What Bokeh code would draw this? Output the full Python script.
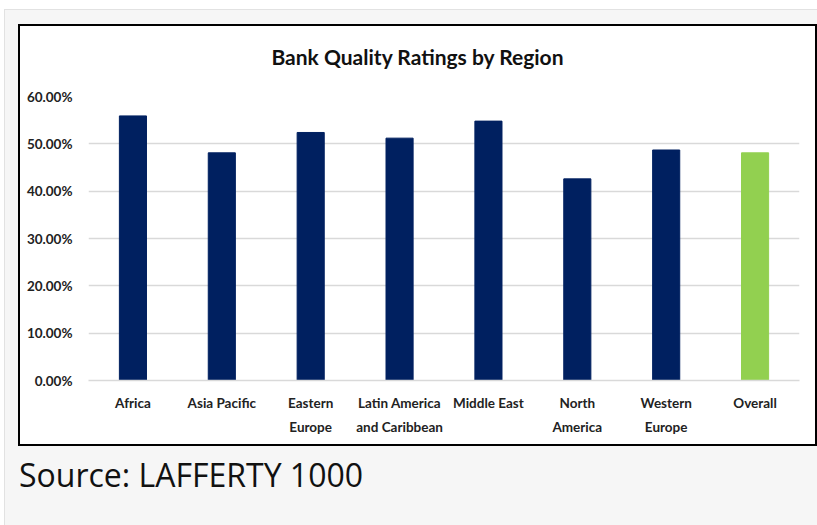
from bokeh.plotting import figure
from bokeh.layouts import column, row
from bokeh.models import (Range1d, FactorRange, FixedTicker, NumeralTickFormatter, Div,
                          ColumnDataSource, Spacer)
from bokeh.embed import file_html
from bokeh.resources import INLINE

title_text = "Bank Quality Ratings by Region"
source_text = "Source: LAFFERTY 1000"
categories = ["Africa", "Asia Pacific", "Eastern\nEurope", "Latin America\nand Caribbean",
              "Middle East", "North\nAmerica", "Western\nEurope", "Overall"]
values = [0.559, 0.481, 0.524, 0.512, 0.548, 0.426, 0.487, 0.481]
bar_colors = ["#002060", "#002060", "#002060", "#002060", "#002060", "#002060", "#002060", "#92D050"]
y_ticks = [0.0, 0.1, 0.2, 0.3, 0.4, 0.5, 0.6]

src = ColumnDataSource(dict(cat=categories, val=values, color=bar_colors))

p = figure(x_range=FactorRange(*categories, range_padding=0), y_range=Range1d(0, 0.6),
           width=795, height=356, output_backend="svg", toolbar_location=None,
           min_border_left=68, min_border_right=16, min_border_top=8, min_border_bottom=64)
p.vbar(x="cat", top="val", width=0.305, color="color", source=src)

p.background_fill_color = "white"
p.border_fill_color = "white"
p.outline_line_color = None

p.xgrid.grid_line_color = None
p.ygrid.grid_line_color = "#d9d9d9"
p.ygrid.grid_line_width = 1.5
p.ygrid.ticker = FixedTicker(ticks=y_ticks)

p.yaxis.ticker = FixedTicker(ticks=y_ticks)
p.yaxis.formatter = NumeralTickFormatter(format="0.00%")
p.yaxis.axis_line_color = None
p.yaxis.major_tick_line_color = None
p.yaxis.minor_tick_line_color = None
p.yaxis.major_label_standoff = 10
p.yaxis.major_label_text_font = "Lato"
p.yaxis.major_label_text_font_size = "13.5px"
p.yaxis.major_label_text_font_style = "bold"
p.yaxis.major_label_text_color = "#222222"

p.xaxis.axis_line_color = "#d9d9d9"
p.xaxis.axis_line_width = 1.5
p.xaxis.major_tick_line_color = None
p.xaxis.minor_tick_line_color = None
p.xaxis.major_label_standoff = 8
p.xaxis.major_label_text_font = "Lato"
p.xaxis.major_label_text_font_size = "13.5px"
p.xaxis.major_label_text_font_style = "bold"
p.xaxis.major_label_text_color = "#222222"
p.xaxis.major_label_text_line_height = 1.5

title_div = Div(text=title_text, width=795, height=62, margin=(0, 0, 0, 0),
                styles={"font-family": "Lato", "font-size": "21px", "font-weight": "bold",
                        "line-height": "62px", "text-align": "center", "color": "#111111"})

chart_box = column(title_div, p, width=799, height=422,
                   styles={"border": "2px solid #000000", "background-color": "white"})

source_div = Div(text=source_text, width=600, height=45, margin=(0, 0, 0, 0),
                 styles={"font-family": "Open Sans", "font-size": "32px",
                         "line-height": "normal", "color": "#111111"})

inner = column(Spacer(height=14), row(Spacer(width=13), chart_box), Spacer(height=7),
               row(Spacer(width=14), source_div), width=813, height=516,
               styles={"background-color": "#f6f6f6", "border-top": "1px solid #e2e2e2",
                       "border-left": "1px solid #e2e2e2"})

page = column(Spacer(height=9), row(Spacer(width=4), inner), width=817, height=525)

open("out.html", "w").write(file_html(page, INLINE))
